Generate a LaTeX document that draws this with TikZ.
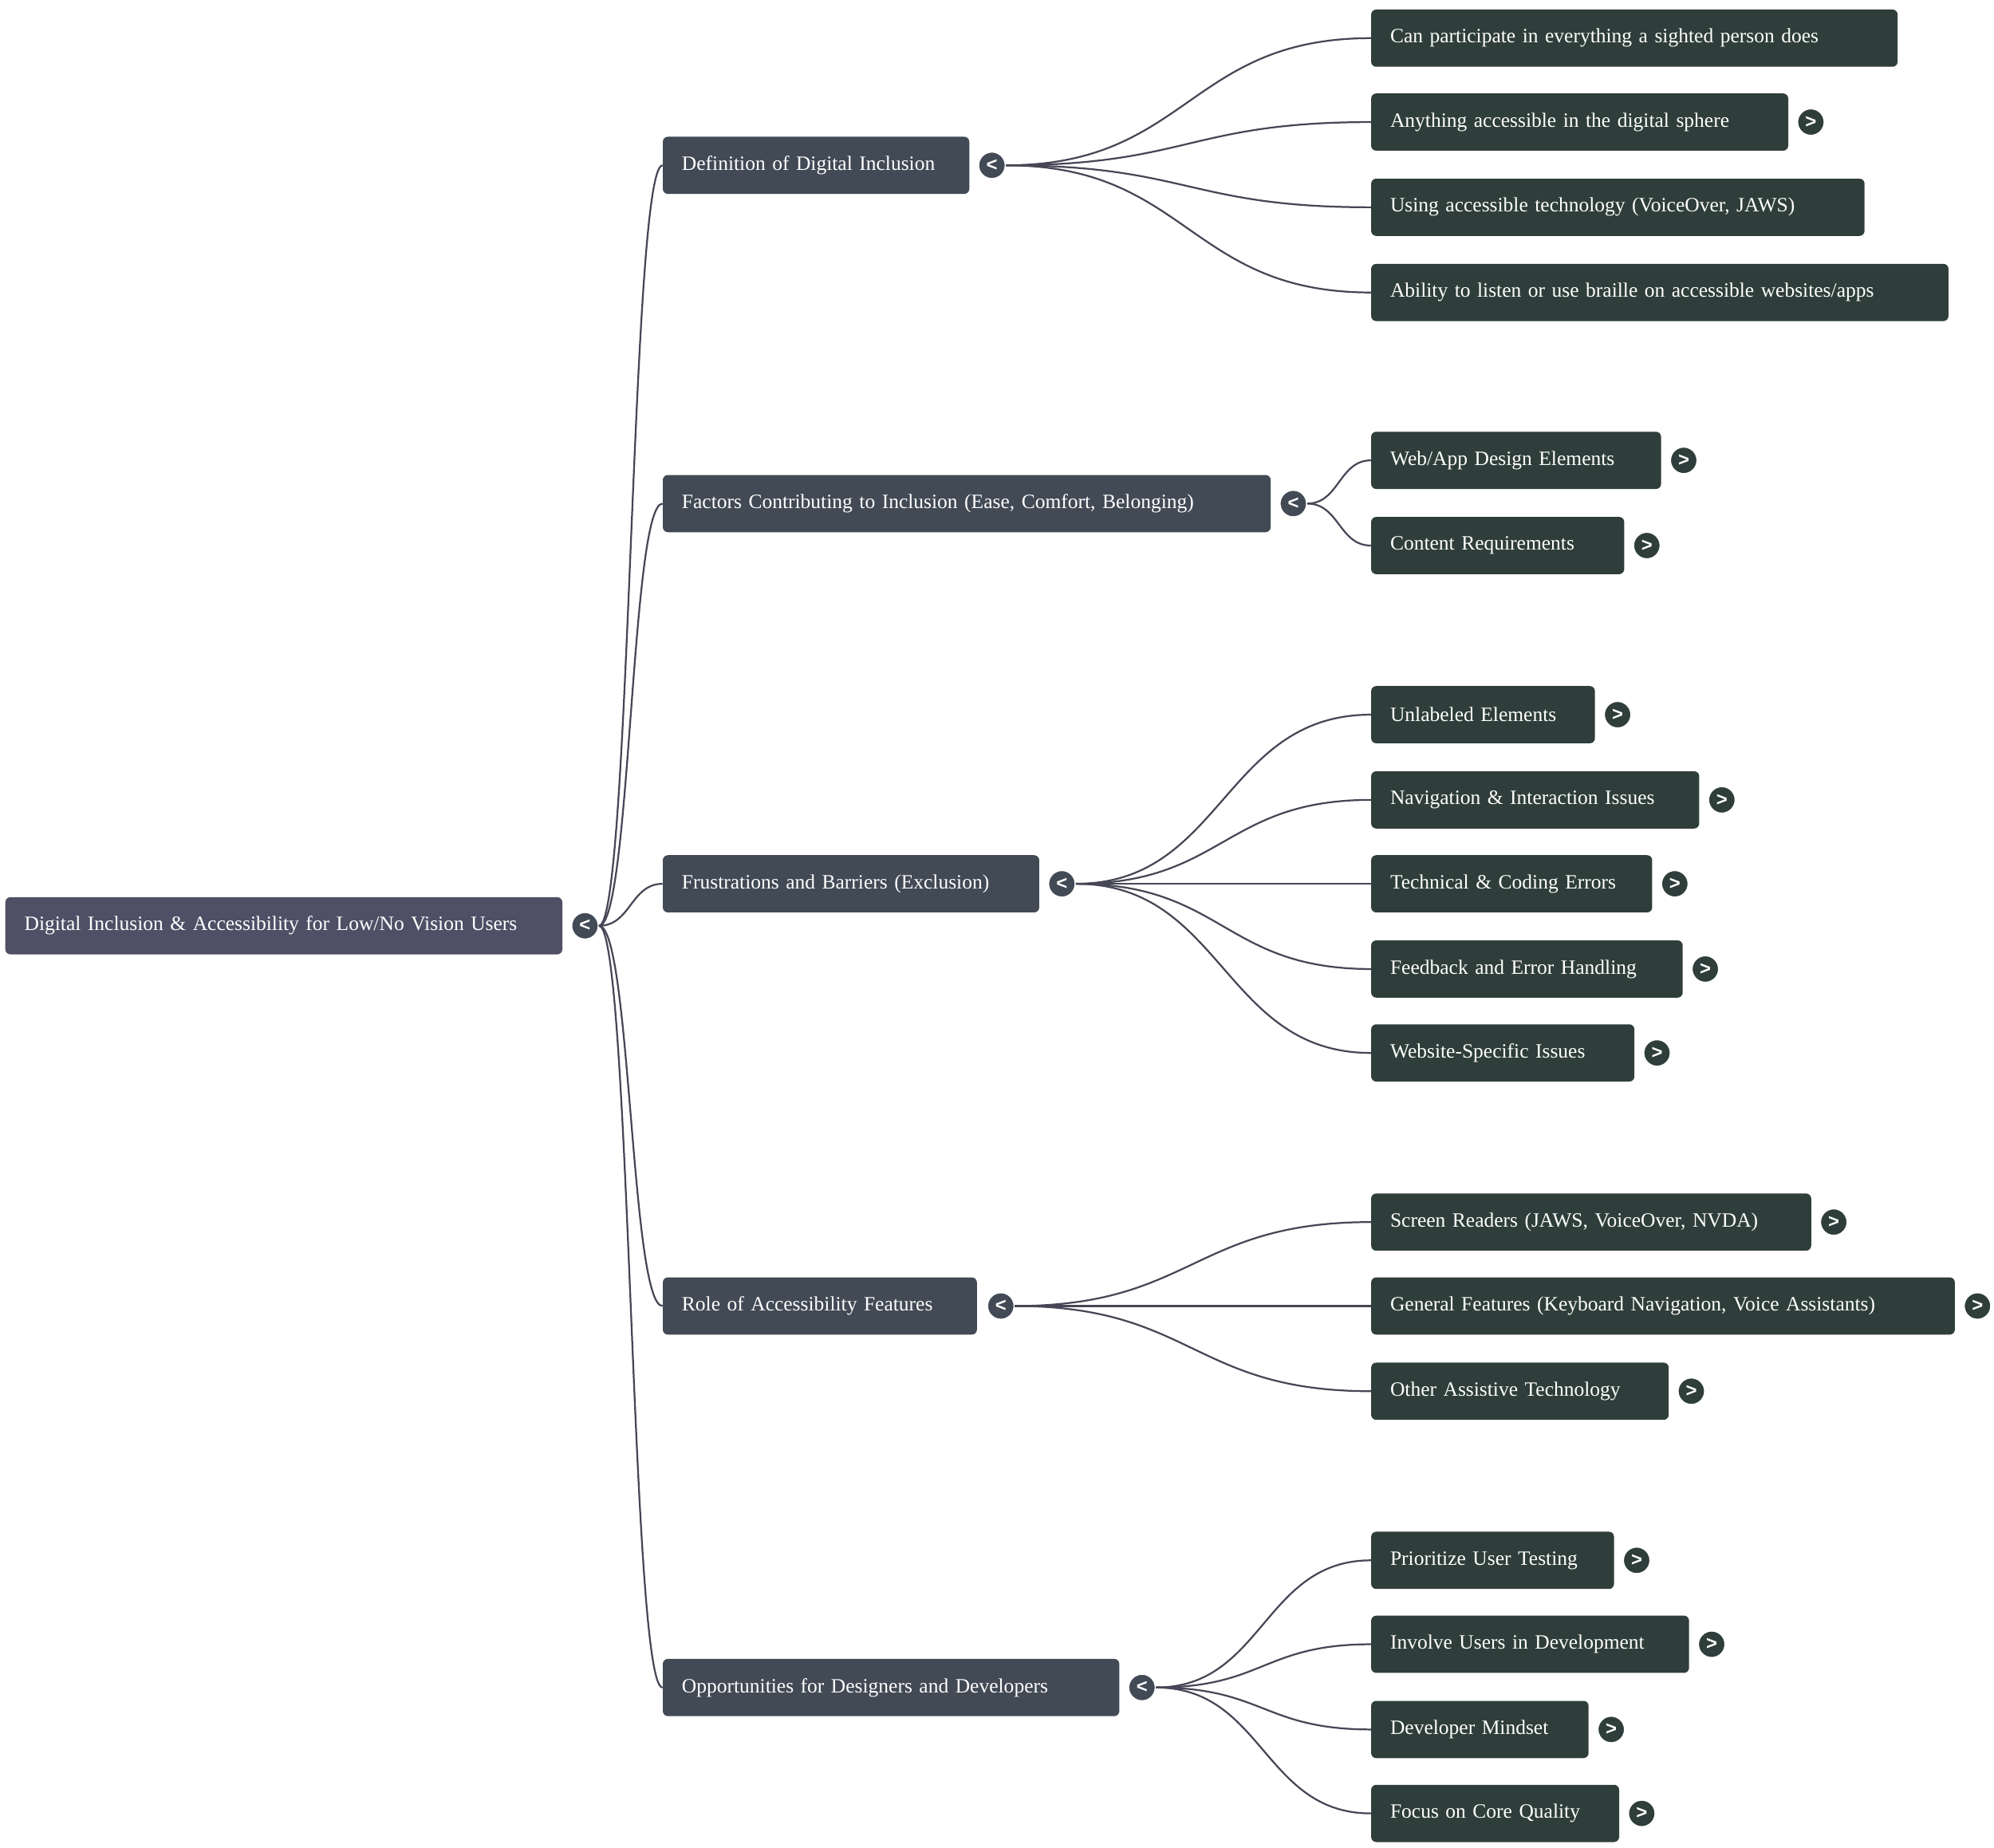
\documentclass[tikz,border=0pt]{standalone}
\usepackage{fontspec}
\setmainfont{Liberation Serif}
\newfontfamily\btnfont{Liberation Sans}
\usetikzlibrary{calc}
\definecolor{rootc}{HTML}{4F5066}
\definecolor{midc}{HTML}{414A55}
\definecolor{leafc}{HTML}{2F3E3A}
\definecolor{linec}{HTML}{464656}
\begin{document}
\begin{tikzpicture}[x=1pt,y=-1pt,
  box/.style={rounded corners=4pt,minimum height=45pt,inner xsep=15pt,inner ysep=0pt,anchor=west,align=left,text=white,font=\fontsize{16}{19}\selectfont},
  btn/.style={circle,fill=#1,draw=white,line width=1pt,minimum size=21pt,inner sep=0pt,text=white,font=\btnfont\fontsize{15}{15}\selectfont\bfseries},
  con/.style={draw=linec,line width=1.4pt}]
\useasboundingbox (0,0) rectangle (1568,1453);
\newcommand\bx[6]{\node[box,fill=#2,minimum width=#4,text width=#4-30] (#1) at (#3,#5) {#6};}
\newcommand\cn[2]{\draw[con] let \p1=(#1.east),\p2=(#2.west) in (\p1) .. controls ({(\x1+\x2)/2},\y1) and ({(\x1+\x2)/2},\y2) .. (\p2);}
% root
\bx{r}{rootc}{4}{438}{728}{Digital Inclusion \& Accessibility for Low/No Vision Users}
\node[btn=midc] (rb) at (460,728) {<};
% level 1
\bx{a}{midc}{521}{241}{130}{Definition of Digital Inclusion}
\node[btn=midc] (ab) at (780,130) {<};
\bx{b}{midc}{521}{478}{396}{Factors Contributing to Inclusion (Ease, Comfort, Belonging)}
\node[btn=midc] (bb) at (1017,396) {<};
\bx{c}{midc}{521}{296}{695}{Frustrations and Barriers (Exclusion)}
\node[btn=midc] (cb) at (835,695) {<};
\bx{d}{midc}{521}{247}{1027}{Role of Accessibility Features}
\node[btn=midc] (db) at (787,1027) {<};
\bx{e}{midc}{521}{359}{1327}{Opportunities for Designers and Developers}
\node[btn=midc] (eb) at (898,1327) {<};
\cn{rb}{a}\cn{rb}{b}\cn{rb}{c}\cn{rb}{d}\cn{rb}{e}
% leaves
\newcommand\lf[6]{\bx{#1}{leafc}{1078}{#2}{#3}{#4}
  \ifx#5n\else\node[btn=leafc] (#1b) at (#5,#3) {>};\fi
  \cn{#6}{#1}}
\lf{a1}{414}{30}{Can participate in everything a sighted person does}{n}{ab}
\lf{a2}{328}{96}{Anything accessible in the digital sphere}{1424}{ab}
\lf{a3}{388}{163}{Using accessible technology (VoiceOver, JAWS)}{n}{ab}
\lf{a4}{454}{230}{Ability to listen or use braille on accessible websites/apps}{n}{ab}
\lf{b1}{228}{362}{Web/App Design Elements}{1324}{bb}
\lf{b2}{199}{429}{Content Requirements}{1295}{bb}
\lf{c1}{176}{562}{Unlabeled Elements}{1272}{cb}
\lf{c2}{258}{629}{Navigation \& Interaction Issues}{1354}{cb}
\lf{c3}{221}{695}{Technical \& Coding Errors}{1317}{cb}
\lf{c4}{245}{762}{Feedback and Error Handling}{1341}{cb}
\lf{c5}{207}{828}{Website-Specific Issues}{1303}{cb}
\lf{d1}{346}{961}{Screen Readers (JAWS, VoiceOver, NVDA)}{1442}{db}
\lf{d2}{459}{1027}{General Features (Keyboard Navigation, Voice Assistants)}{1555}{db}
\lf{d3}{234}{1094}{Other Assistive Technology}{1330}{db}
\lf{e1}{191}{1227}{Prioritize User Testing}{1287}{eb}
\lf{e2}{250}{1293}{Involve Users in Development}{1346}{eb}
\lf{e3}{171}{1360}{Developer Mindset}{1267}{eb}
\lf{e4}{195}{1426}{Focus on Core Quality}{1291}{eb}
\end{tikzpicture}
\end{document}
